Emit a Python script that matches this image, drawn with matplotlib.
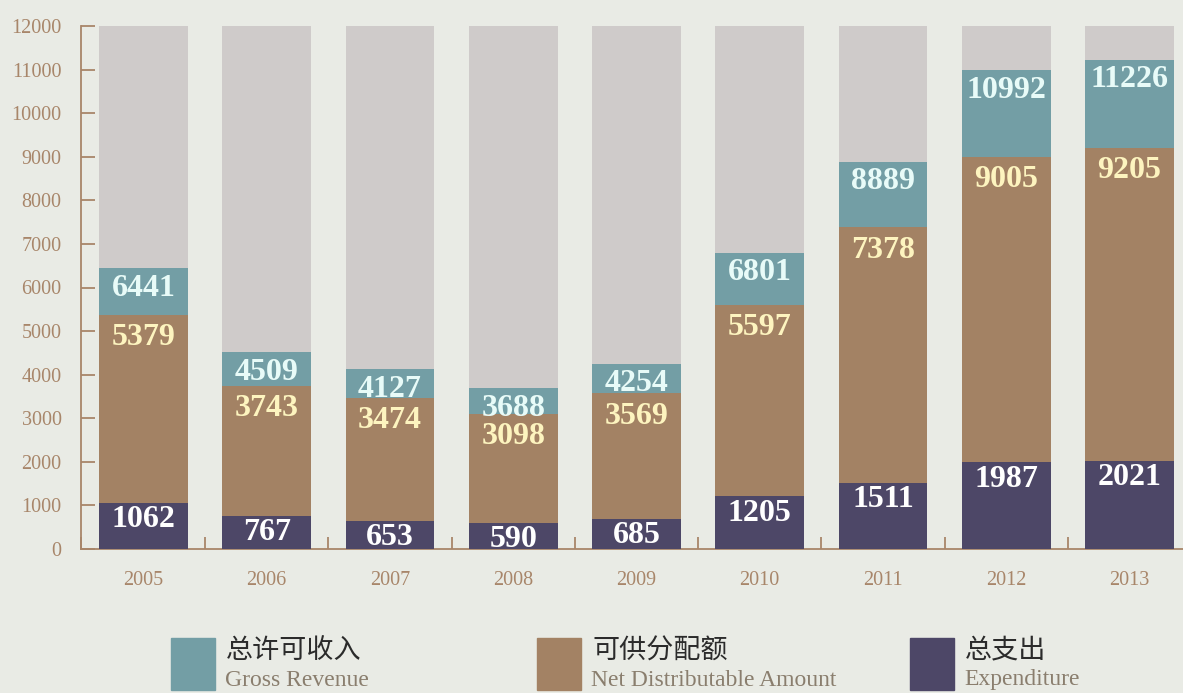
import matplotlib
matplotlib.use("Agg")
import matplotlib.pyplot as plt
from matplotlib.patches import Rectangle

years = ["2005", "2006", "2007", "2008", "2009", "2010", "2011", "2012", "2013"]
gross_revenue = [6441, 4509, 4127, 3688, 4254, 6801, 8889, 10992, 11226]
net_distributable = [5379, 3743, 3474, 3098, 3569, 5597, 7378, 9005, 9205]
expenditure = [1062, 767, 653, 590, 685, 1205, 1511, 1987, 2021]
y_ticks = [0, 1000, 2000, 3000, 4000, 5000, 6000, 7000, 8000, 9000, 10000, 11000, 12000]
y_max = 12000
legend_cn = ["总许可收入", "可供分配额", "总支出"]
legend_en = ["Gross Revenue", "Net Distributable Amount", "Expenditure"]

BG = "#e9ebe5"
GREY = "#cfcbca"
TEAL = "#739ea5"
BROWN = "#a38264"
PURPLE = "#4d4767"
AXIS = "#a8866a"
SERIF = ["Liberation Serif", "DejaVu Serif"]

W, H = 1183, 693
fig = plt.figure(figsize=(W / 100, H / 100), dpi=100, facecolor=BG)
ax = fig.add_axes([81 / W, 1 - 549 / H, (W - 81) / W, (549 - 26) / H])
ax.set_facecolor(BG)

x = list(range(len(years)))
bw = 0.72
ax.bar(x, [y_max] * len(x), width=bw, color=GREY, zorder=1)
ax.bar(x, gross_revenue, width=bw, color=TEAL, zorder=2)
ax.bar(x, net_distributable, width=bw, color=BROWN, zorder=3)
ax.bar(x, expenditure, width=bw, color=PURPLE, zorder=4)

label_kw = dict(ha="center", va="center", textcoords="offset points",
                fontsize=23, fontweight="bold", family=SERIF, zorder=5)
for i in x:
    ax.annotate(str(gross_revenue[i]), (i, gross_revenue[i]), xytext=(0, -14.5),
                color="#e8fbf8", **label_kw)
    ax.annotate(str(net_distributable[i]), (i, net_distributable[i]), xytext=(0, -16.5),
                color="#fdf4bf", **label_kw)
    ax.annotate(str(expenditure[i]), (i, expenditure[i]), xytext=(0, -12),
                color="white", **label_kw)

ax.set_ylim(0, y_max)
ax.set_xlim(-0.507, -0.507 + (W - 81) / 123.25)
ax.set_yticks(y_ticks)
ax.set_yticklabels([str(v) for v in y_ticks], family=SERIF, fontsize=14.5, color=AXIS)
ax.tick_params(axis="y", direction="in", length=10, width=1.3, color=AXIS, pad=14)

ax.set_xticks([i + 0.5 for i in x[:-1]] + [-0.507])
ax.set_xticklabels([])
ax.tick_params(axis="x", direction="in", length=9, width=1.3, color=AXIS)
for i, yr in enumerate(years):
    ax.text(i, -0.061 * y_max, yr, ha="center", va="center", family=SERIF,
            fontsize=14.5, color=AXIS)

for s in ["top", "right"]:
    ax.spines[s].set_visible(False)
for s in ["left", "bottom"]:
    ax.spines[s].set_color(AXIS)
    ax.spines[s].set_linewidth(1.3)

# legend
colors = [TEAL, BROWN, PURPLE]
lx = [171, 537, 910]
for cx, c, cn, en in zip(lx, colors, legend_cn, legend_en):
    fig.add_artist(Rectangle((cx / W, 1 - 690 / H), 44 / W, 52 / H,
                             transform=fig.transFigure, color=c))
    fig.text((cx + 55) / W, 1 - 651 / H, cn, ha="left", va="center",
             family=["Noto Sans CJK SC", "DejaVu Sans"], fontsize=19.5, color="#2b2b2b")
    fig.text((cx + 54) / W, 1 - 680 / H, en, ha="left", va="center",
             family=SERIF, fontsize=17, color="#8a7e6e")

fig.savefig("out.png", dpi=100, facecolor=BG)
